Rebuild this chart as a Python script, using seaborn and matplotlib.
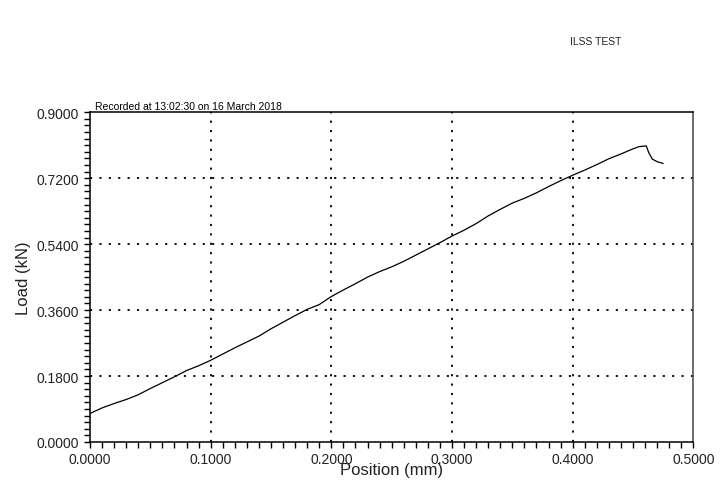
import matplotlib
matplotlib.use("Agg")
import matplotlib.pyplot as plt
from matplotlib.ticker import MultipleLocator, FormatStrFormatter
import seaborn as sns
import pandas as pd

# readings
position_mm = [0.00, 0.01, 0.02, 0.03, 0.04, 0.05, 0.06, 0.07, 0.08, 0.09,
               0.10, 0.11, 0.12, 0.13, 0.14, 0.15, 0.16, 0.17, 0.18, 0.19,
               0.20, 0.21, 0.22, 0.23, 0.24, 0.25, 0.26, 0.27, 0.28, 0.29,
               0.30, 0.31, 0.32, 0.33, 0.34, 0.35, 0.36, 0.37, 0.38, 0.39,
               0.40, 0.41, 0.42, 0.43, 0.44, 0.45, 0.455, 0.461, 0.463,
               0.466, 0.470, 0.475]
load_kn = [0.078, 0.093, 0.105, 0.116, 0.129, 0.146, 0.162, 0.178, 0.195, 0.208,
           0.223, 0.240, 0.257, 0.273, 0.289, 0.309, 0.327, 0.345, 0.362, 0.375,
           0.397, 0.415, 0.432, 0.450, 0.465, 0.478, 0.493, 0.510, 0.527, 0.544,
           0.562, 0.578, 0.596, 0.617, 0.635, 0.652, 0.665, 0.680, 0.697, 0.713,
           0.728, 0.742, 0.757, 0.773, 0.786, 0.800, 0.806, 0.808, 0.790,
           0.772, 0.765, 0.760]

title = "ILSS TEST"
recorded = "Recorded at 13:02:30 on 16 March 2018"

sns.set_style("ticks")
plt.rcParams['font.family'] = ['Liberation Sans', 'DejaVu Sans']

df = pd.DataFrame({"Position (mm)": position_mm, "Load (kN)": load_kn})

fig = plt.figure(figsize=(7.26, 4.85), dpi=100)
ax = fig.add_axes([0.124, 0.0866, 0.831, 0.680])

sns.lineplot(data=df, x="Position (mm)", y="Load (kN)", ax=ax,
             color="black", linewidth=0.9, sort=False)

ax.set_xlim(0, 0.5)
ax.set_ylim(0, 0.9)
ax.xaxis.set_major_locator(MultipleLocator(0.1))
ax.xaxis.set_minor_locator(MultipleLocator(0.01))
ax.yaxis.set_major_locator(MultipleLocator(0.18))
ax.yaxis.set_minor_locator(MultipleLocator(0.018))
ax.xaxis.set_major_formatter(FormatStrFormatter("%.4f"))
ax.yaxis.set_major_formatter(FormatStrFormatter("%.4f"))

ax.tick_params(which="both", direction="out", length=4, width=1,
               color="black", labelsize=10, labelcolor="#222222",
               bottom=True, left=True, top=False, right=False)
ax.tick_params(axis="x", pad=3)
ax.tick_params(axis="y", pad=4)

# dotted grid only on interior major positions
for xv in [0.1, 0.2, 0.3, 0.4]:
    ax.axvline(xv, color="black", linestyle=(0, (1.2, 4)), linewidth=1.3, zorder=0)
for yv in [0.18, 0.36, 0.54, 0.72]:
    ax.axhline(yv, color="black", linestyle=(0, (1.2, 4)), linewidth=1.3, zorder=0)

for side in ["left", "bottom", "top", "right"]:
    ax.spines[side].set_visible(True)
    ax.spines[side].set_color("black")
    ax.spines[side].set_linewidth(1.1)
ax.spines["right"].set_color("#444444")

ax.set_xlabel("Position (mm)", fontsize=12, labelpad=-3, color="#222222")
ax.set_ylabel("Load (kN)", fontsize=12, labelpad=4, color="#222222")

ax.text(0.008, 1.005, recorded, transform=ax.transAxes, fontsize=7.5,
        ha="left", va="bottom", color="black")
fig.text(0.82, 0.913, title, fontsize=7.5, ha="center", va="center", color="#222222")

fig.savefig("out.png", dpi=100)
